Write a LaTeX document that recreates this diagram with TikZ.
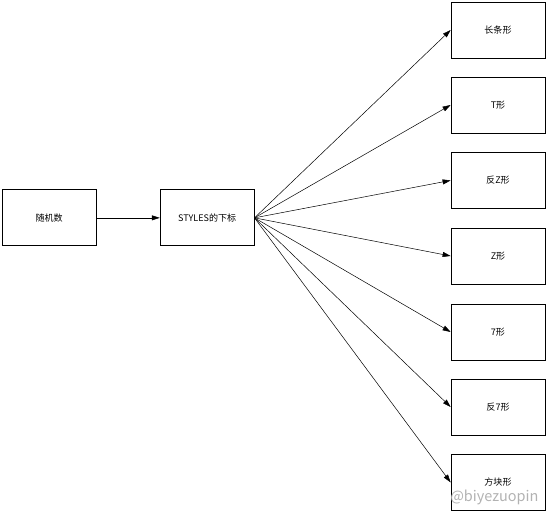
\documentclass[tikz,border=0pt]{standalone}
\usepackage{fontspec}
\setmainfont{Noto Sans CJK SC}
\usepackage{tikz}
\usetikzlibrary{arrows.meta}

\begin{document}
\begin{tikzpicture}[
  n/.style={draw,line width=0.7pt,minimum width=3.29cm,minimum height=1.96cm,align=center,font=\small},
  arr/.style={-{Triangle[length=8pt,width=5pt]},line width=0.5pt}
]
\useasboundingbox (0,0) rectangle (19.18,18.025);

\node[n] (rand)  at (1.72,10.40)  {随机数};
\node[n] (idx)   at (7.25,10.40)  {STYLES的下标};

\node[n] (long)  at (17.43,16.975) {长条形};
\node[n] (tt)    at (17.43,14.35)  {T形};
\node[n] (rz)    at (17.43,11.71)  {反Z形};
\node[n] (zz)    at (17.43,9.065)  {Z形};
\node[n] (seven) at (17.43,6.405)  {7形};
\node[n] (rseven)at (17.43,3.78)   {反7形};
\node[n] (sq)    at (17.43,1.14)   {方块形};

\draw[arr] (rand) -- (idx);
\draw[arr] (idx.east) -- (long.west);
\draw[arr] (idx.east) -- (tt.west);
\draw[arr] (idx.east) -- (rz.west);
\draw[arr] (idx.east) -- (zz.west);
\draw[arr] (idx.east) -- (seven.west);
\draw[arr] (idx.east) -- (rseven.west);
\draw[arr] (idx.east) -- (sq.west);

\node[font=\Large,gray!60] (wm) at (17.3,0.6) {@biyezuopin};
\end{tikzpicture}
\end{document}
